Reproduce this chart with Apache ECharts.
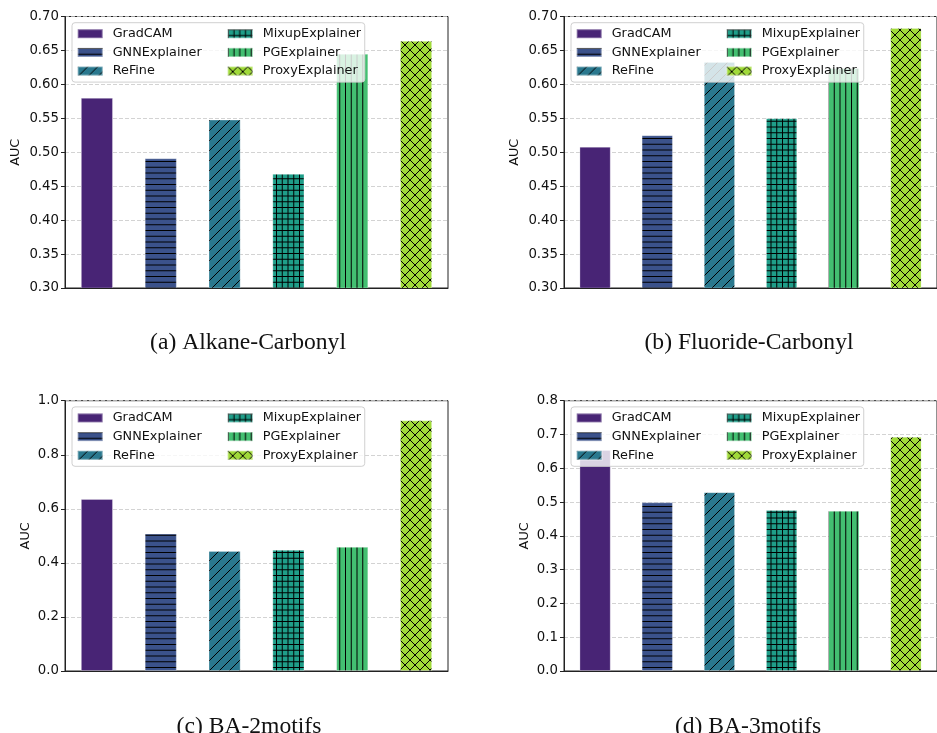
<!DOCTYPE html>
<html>
<head>
<meta charset="utf-8">
<script src="https://cdn.jsdelivr.net/npm/echarts@6/dist/echarts.min.js"></script>
<style>
html,body{margin:0;padding:0;background:#fff;}
#chart{width:937px;height:733px;}
</style>
</head>
<body>
<div id="chart"></div>
<script>
// ---- data ----
const methods = ['GradCAM', 'GNNExplainer', 'ReFine', 'MixupExplainer', 'PGExplainer', 'ProxyExplainer'];
const panelTitles = ['(a) Alkane-Carbonyl', '(b) Fluoride-Carbonyl', '(c) BA-2motifs', '(d) BA-3motifs'];
const alkaneCarbonyl = [0.580, 0.491, 0.548, 0.468, 0.645, 0.664];
const fluorideCarbonyl = [0.508, 0.525, 0.633, 0.550, 0.624, 0.683];
const ba2motifs = [0.636, 0.508, 0.444, 0.448, 0.459, 0.927];
const ba3motifs = [0.654, 0.499, 0.529, 0.476, 0.474, 0.693];
const yMins = [0.3, 0.3, 0, 0];
const yMaxs = [0.7, 0.7, 1.0, 0.8];
const yIntervals = [0.05, 0.05, 0.2, 0.1];
const yDecimals = [2, 2, 1, 1];

// ---- style ----
const colors = ['#482475', '#3b528b', '#2a788e', '#1f9e89', '#43bf71', '#a0da39'];
const hatchKinds = ['none', '-', '/', '+', '|', 'x'];
const FONT = 'DejaVu Sans';

function hatch(bg, kind) {
  if (kind === 'none') return bg;
  const diag = (kind === '/' || kind === 'x');
  const s = diag ? 20 : 23;
  const c = document.createElement('canvas');
  c.width = s; c.height = s;
  const g = c.getContext('2d');
  g.fillStyle = bg; g.fillRect(0, 0, s, s);
  g.strokeStyle = '#000'; g.lineWidth = 1;
  g.beginPath();
  if (kind === '-' || kind === '+') for (let k = 0; k < 4; k++) { const y = k * 5.75 + 0.5; g.moveTo(0, y); g.lineTo(s, y); }
  if (kind === '|' || kind === '+') for (let k = 0; k < 4; k++) { const x = k * 5.75 + 0.5; g.moveTo(x, 0); g.lineTo(x, s); }
  if (diag) for (let k = -3; k <= 3; k++) { const o = k * 10; g.moveTo(o, s); g.lineTo(o + s, 0); }
  if (kind === 'x') for (let k = -3; k <= 3; k++) { const o = k * 10; g.moveTo(o, 0); g.lineTo(o + s, s); }
  g.stroke();
  return { image: c, repeat: 'repeat' };
}
const fills = colors.map((c, i) => hatch(c, hatchKinds[i]));

const panelData = [alkaneCarbonyl, fluorideCarbonyl, ba2motifs, ba3motifs];
// layout per panel
const gridLeft = [65, 564, 65, 564];
const gridTop = [16.5, 16.5, 400.7, 400.7];
const gridH = [271.5, 271.5, 270.3, 270.3];
const gridW = 383;
const nameGaps = [43, 43, 33, 33];
const titleX = [243, 744, 244, 743];
const titleTop = [325, 325, 709, 709];

const grids = [], xAxes = [], yAxes = [], series = [], legends = [], titles = [];
for (let p = 0; p < 4; p++) {
  grids.push({ left: gridLeft[p], top: gridTop[p], width: gridW, height: gridH[p], show: true, borderColor: '#222', borderWidth: 1, containLabel: false });
  xAxes.push({
    type: 'category', gridIndex: p, data: methods, z: 3,
    axisLine: { show: true, lineStyle: { color: '#222', width: 1 } },
    axisTick: { show: false }, axisLabel: { show: false }, splitLine: { show: false }
  });
  const dec = yDecimals[p];
  yAxes.push({
    type: 'value', gridIndex: p, min: yMins[p], max: yMaxs[p], interval: yIntervals[p],
    name: 'AUC', nameLocation: 'middle', nameGap: nameGaps[p],
    nameTextStyle: { fontFamily: FONT, fontSize: 12.8, color: '#111' },
    axisLine: { show: true, lineStyle: { color: '#222', width: 1 } },
    axisTick: { show: true, inside: false, length: 4, lineStyle: { color: '#222' } },
    axisLabel: { fontFamily: FONT, fontSize: 13.3, color: '#111', margin: 6, formatter: v => v.toFixed(dec) },
    splitLine: { show: true, lineStyle: { color: '#c8c8c8', width: 0.8, type: [4, 2] } }
  });
  methods.forEach((m, j) => {
    series.push({
      type: 'bar', name: m, xAxisIndex: p, yAxisIndex: p, stack: 'panel' + p,
      barWidth: '50%',
      data: panelData[p].map((v, k) => (k === j ? v : '-')),
      itemStyle: { color: fills[j], borderColor: 'rgba(255,255,255,0.35)', borderWidth: 0.8 },
      emphasis: { disabled: true },
      animation: false
    });
  });
  const lx = gridLeft[p] + 7, ly = gridTop[p] + 6.2;
  const common = {
    orient: 'vertical', itemWidth: 25, itemHeight: 9, itemGap: 4.7, icon: 'rect',
    selectedMode: false,
    textStyle: { fontFamily: FONT, fontSize: 12.8, color: '#111', lineHeight: 14, padding: [0, 0, 0, 5] }
  };
  legends.push(Object.assign({}, common, {
    data: methods.slice(0, 3), left: lx, top: ly,
    padding: [4, 163, 4, 4.7],
    backgroundColor: 'rgba(255,255,255,0.8)', borderColor: '#d0d0d0', borderWidth: 1, borderRadius: 3, z: 4
  }));
  legends.push(Object.assign({}, common, {
    data: methods.slice(3, 6), left: lx + 154.7, top: ly + 4, padding: 0, z: 5
  }));
  titles.push({
    text: panelTitles[p], left: titleX[p], top: titleTop[p], textAlign: 'center',
    textStyle: { fontFamily: 'Liberation Serif', fontSize: 23.6, fontWeight: 'normal', color: '#111', lineHeight: 26 }
  });
}

const chart = echarts.init(document.getElementById('chart'), null, { renderer: 'canvas' });
chart.setOption({
  animation: false,
  backgroundColor: '#fff',
  title: titles,
  grid: grids,
  xAxis: xAxes,
  yAxis: yAxes,
  legend: legends,
  series: series
});
</script>
</body>
</html>
